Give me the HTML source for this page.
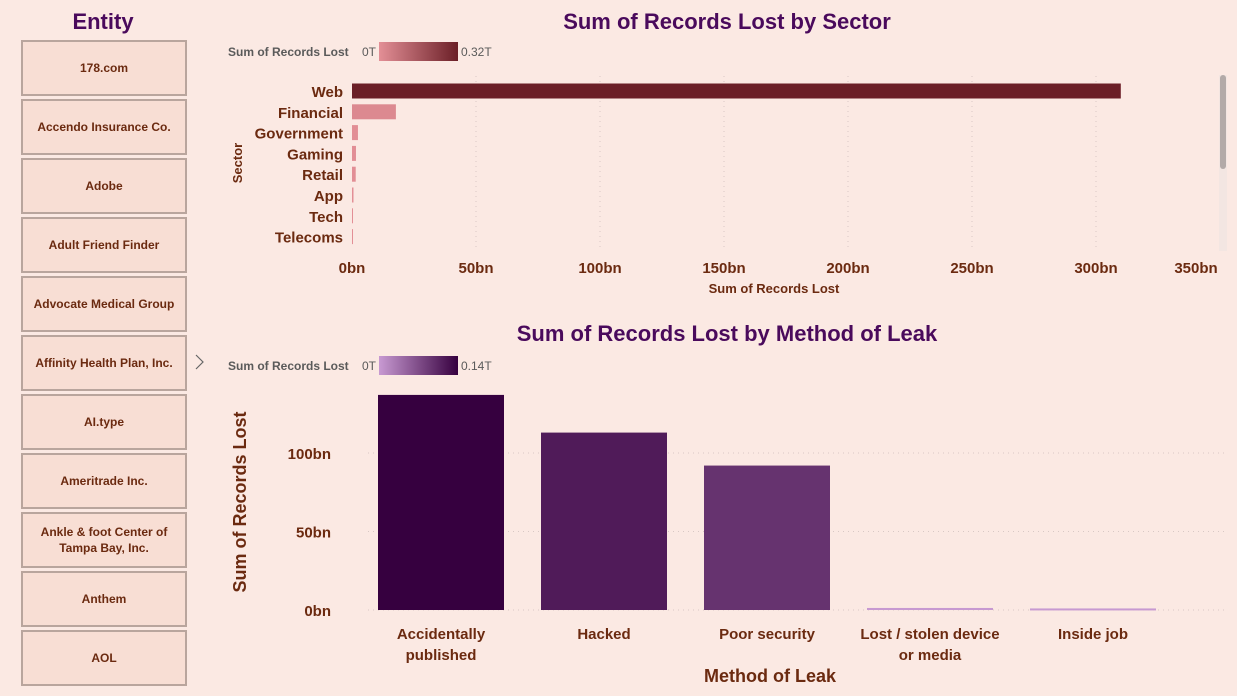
<!DOCTYPE html>
<html><head><meta charset="utf-8"><style>
body{margin:0;width:1237px;height:696px;background:#fbe9e3;overflow:hidden;font-family:"Liberation Sans",sans-serif;}
svg{position:absolute;left:0;top:0}
</style></head><body>
<svg id="s" width="1237" height="696"></svg>
<script>
const entities=["178.com","Accendo Insurance Co.","Adobe","Adult Friend Finder","Advocate Medical Group","Affinity Health Plan, Inc.","AI.type","Ameritrade Inc.","Ankle & foot Center of|Tampa Bay, Inc.","Anthem","AOL"];
const sectors=["Web","Financial","Government","Gaming","Retail","App","Tech","Telecoms"];
const sectorValues=[310,17.7,2.4,1.6,1.5,0.6,0.4,0.3];
const sectorTicks=[0,50,100,150,200,250,300,350];
const methods=["Accidentally|published","Hacked","Poor security","Lost / stolen device|or media","Inside job"];
const methodValues=[137,113,92,1.3,1.0];
const methodTicks=[0,50,100];

const S=document.getElementById('s');const NS="http://www.w3.org/2000/svg";
function el(t,a,txt){const e=document.createElementNS(NS,t);for(const k in a)e.setAttribute(k,a[k]);if(txt!=null)e.textContent=txt;S.appendChild(e);return e;}
function mix(c1,c2,t){const p=c=>[1,3,5].map(i=>parseInt(c.substr(i,2),16));const a=p(c1),b=p(c2);return "rgb("+a.map((v,i)=>Math.round(v+(b[i]-v)*t)).join(",")+")";}
const brown="#6b2a10",purple="#4a0a5c",grey="#5a5a5a";

let t=el('text',{x:103,y:29,'text-anchor':'middle','font-size':22,'font-weight':'bold',fill:purple},"Entity");

entities.forEach((n,i)=>{const y=41+i*59;
 const r=el('rect',{x:22,y:y,width:164,height:54,fill:'#f8ded4',stroke:'#b9a59d','stroke-width':2});
 
 const lines=n.split('|');lines.forEach((l,j)=>{const tt=el('text',{x:104,y:y+31+(j-(lines.length-1)/2)*16,'text-anchor':'middle','font-size':12,'font-weight':'bold',fill:brown},l);
 });
});
let ch=el('path',{d:'M196 355 L203 362 L196 369',fill:'none',stroke:'#666','stroke-width':1.2});


// Top chart
t=el('text',{x:727,y:29,'text-anchor':'middle','font-size':22,'font-weight':'bold',fill:purple},"Sum of Records Lost by Sector");

function legend(y,c0,c1,maxl,nm){
 let a=el('text',{x:228,y:y+5,'font-size':12,'font-weight':'bold',fill:grey},"Sum of Records Lost");
 a=el('text',{x:362,y:y+5,'font-size':12,fill:grey},"0T");
 const g=el('linearGradient',{id:nm+'g'});el('stop',{offset:0,'stop-color':c0});el('stop',{offset:1,'stop-color':c1});
 g.appendChild(S.lastChild.previousSibling);g.appendChild(S.lastChild);
 a=el('rect',{x:379,y:y-9,width:79,height:19,fill:'url(#'+nm+'g)'});
 a=el('text',{x:461,y:y+5,'font-size':12,fill:grey},maxl);
}
legend(51,'#e38f96','#6b1f27','0.32T','sector');
const xs=v=>352+v*124/50;
sectorTicks.forEach(v=>{const x=xs(v);
 if(v>0){const l=el('line',{x1:x,y1:76,x2:x,y2:250,stroke:'#d8c8c4','stroke-dasharray':'1,4'});}
 const tx=el('text',{x:Math.min(x,1196),y:273,'text-anchor':'middle','font-size':15,'font-weight':'bold',fill:brown},v+"bn");
 });
const smax=Math.max(...sectorValues);
sectors.forEach((s,i)=>{const cy=91+i*20.8;
 const b=el('rect',{x:352,y:cy-7.5,width:Math.max(1,xs(sectorValues[i])-352),height:15,fill:mix('#e38f96','#6b1f27',sectorValues[i]/smax)});
 
 const lb=el('text',{x:343,y:cy+6,'text-anchor':'end','font-size':15,'font-weight':'bold',fill:brown},s);
 });
t=el('text',{x:0,y:0,transform:'translate(242,163) rotate(-90)','text-anchor':'middle','font-size':13,'font-weight':'bold',fill:brown},"Sector");

t=el('text',{x:774,y:293,'text-anchor':'middle','font-size':13,'font-weight':'bold',fill:brown},"Sum of Records Lost");

let sb=el('rect',{x:1219,y:75,width:8,height:176,fill:'#f3e6e2'});
sb=el('rect',{x:1220,y:75,width:6,height:94,rx:3,fill:'#b3aaa8'});

// Bottom chart
t=el('text',{x:727,y:341,'text-anchor':'middle','font-size':22,'font-weight':'bold',fill:purple},"Sum of Records Lost by Method of Leak");

legend(365,'#c89ad2','#36003f','0.14T','method');
const ys=v=>610-v*78.5/50;
methodTicks.forEach(v=>{const y=ys(v);
 const l=el('line',{x1:368,y1:y,x2:1225,y2:y,stroke:'#d8c8c4','stroke-dasharray':'1,4'});
 const tx=el('text',{x:331,y:y+6,'text-anchor':'end','font-size':15,'font-weight':'bold',fill:brown},v+"bn");
 });
const mmax=Math.max(...methodValues);
methods.forEach((m,i)=>{const x=378+i*163;const v=methodValues[i];
 const b=el('rect',{x:x,y:ys(v),width:126,height:Math.max(2,610-ys(v)),fill:mix('#c89ad2','#36003f',v/mmax)});
 
 m.split('|').forEach((l,j)=>{const tx=el('text',{x:x+63,y:639+j*21,'text-anchor':'middle','font-size':15,'font-weight':'bold',fill:brown},l);
 });});
t=el('text',{x:0,y:0,transform:'translate(246,502) rotate(-90)','text-anchor':'middle','font-size':18,'font-weight':'bold',fill:brown},"Sum of Records Lost");

t=el('text',{x:770,y:682,'text-anchor':'middle','font-size':18,'font-weight':'bold',fill:brown},"Method of Leak");

</script>
</body></html>
